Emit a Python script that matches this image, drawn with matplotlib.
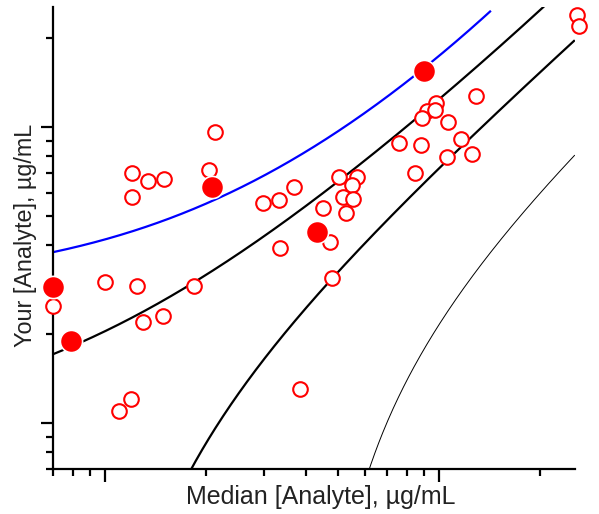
import numpy as np
import matplotlib
matplotlib.use("Agg")
import matplotlib.pyplot as plt
from matplotlib.ticker import LogLocator, NullFormatter

plt.rcParams['font.family'] = ['Liberation Sans', 'DejaVu Sans']

# ---- data ----
open_x = [2.135, 2.048, 1.205, 1.345, 1.502, 1.205, 0.699, 1.00, 1.247, 1.847,
          1.30, 1.492, 1.196, 1.101, 2.972, 3.319, 3.68, 3.34, 5.02, 5.68,
          5.49, 5.16, 5.53, 5.27, 4.49, 4.72, 4.78, 3.84, 12.91, 9.80,
          9.21, 9.73, 8.90, 10.64, 7.59, 8.84, 11.64, 10.57, 12.56, 8.48,
          25.9, 26.2]
open_y = [9.62, 7.16, 6.99, 6.57, 6.67, 5.80, 2.48, 2.995, 2.90, 2.90,
          2.19, 2.30, 1.205, 1.098, 5.54, 5.67, 6.27, 3.90, 6.78, 6.78,
          6.37, 5.80, 5.71, 5.12, 5.33, 4.09, 3.09, 1.30, 12.73, 12.05,
          11.33, 11.41, 10.72, 10.40, 8.83, 8.69, 9.11, 7.92, 8.11, 6.99,
          23.9, 21.9]

filled_x = [0.699, 0.791, 2.09, 4.31, 9.02]
filled_y = [2.88, 1.89, 6.27, 4.42, 15.46]

# curves: y = a + b*x + c*x^2, drawn for x in [x_start, x_end]
curve_a = [2.877, 0.935, -0.75, -1.65]
curve_b = [1.278, 1.104, 0.80, 0.38]
curve_c = [0.01737, 0.00434, 0.0, 0.0]
curve_xend = [14.3, 25.5, 25.5, 25.5]
curve_color = ['#0000ff', 'black', 'black', 'black']
curve_lw = [1.6, 1.6, 1.6, 0.7]

xlim = [0.7, 25.5]
ylim = [0.7, 25.5]

# ---- figure ----
fig = plt.figure(figsize=(5.99, 5.14), dpi=100)
ax = fig.add_axes([0.0890, 0.0877, 0.9596 - 0.0890, 0.987 - 0.0877])
ax.set_xscale('log')
ax.set_yscale('log')
ax.set_xlim(xlim)
ax.set_ylim(ylim)

for a, b, c, xe, col, lw in zip(curve_a, curve_b, curve_c, curve_xend,
                                 curve_color, curve_lw):
    xs = np.logspace(np.log10(xlim[0]), np.log10(xe), 400)
    ys = a + b * xs + c * xs ** 2
    m = ys > 0.3
    ax.plot(xs[m], ys[m], color=col, lw=lw, zorder=2, solid_capstyle='butt')

ax.plot(open_x, open_y, ls='none', marker='o', ms=10.5, mew=1.5,
        mec='#ff0000', mfc='white', clip_on=False, zorder=4)
ax.plot(filled_x, filled_y, ls='none', marker='o', ms=16, mew=1.2,
        mec='white', mfc='#ff0000', clip_on=False, zorder=5)

for s in ['top', 'right']:
    ax.spines[s].set_visible(False)
for s in ['left', 'bottom']:
    ax.spines[s].set_linewidth(1.6)

for axis in (ax.xaxis, ax.yaxis):
    axis.set_major_locator(LogLocator(base=10, numticks=10))
    axis.set_minor_locator(LogLocator(base=10, subs=np.arange(2, 10), numticks=10))
    axis.set_major_formatter(NullFormatter())
    axis.set_minor_formatter(NullFormatter())
ax.tick_params(which='major', direction='out', length=9, width=1.6)
ax.tick_params(which='minor', direction='out', length=5, width=1.6)

fig.text(0.536, 0.033, 'Median [Analyte], µg/mL', ha='center', va='center',
         fontsize=18, color='#222222')
fig.text(0.042, 0.543, 'Your [Analyte], µg/mL', ha='center', va='center',
         rotation=90, fontsize=16.8, color='#222222')

fig.savefig('out.png', dpi=100)
